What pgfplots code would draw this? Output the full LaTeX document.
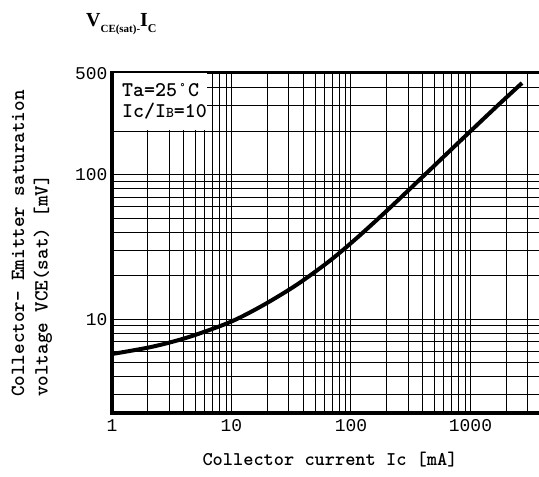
\documentclass[border=0pt]{standalone}
\usepackage{fontspec}
\usepackage{pgfplots}
\pgfplotsset{compat=1.18}
\newfontfamily\titlefont{Liberation Serif}
\newfontfamily\tickfont{Liberation Mono}

\begin{document}
\begin{tikzpicture}
\begin{axis}[
  at={(0,0)}, anchor=south west,
  scale only axis, width=427bp, height=341bp,
  xmode=log, ymode=log,
  xmin=1, xmax=3744, ymin=2.25, ymax=515,
  xtick={1,10,100,1000}, xticklabels={1,10,100,1000},
  ytick={10,100,500}, yticklabels={10,100,500},
  minor xtick={2,3,4,5,6,7,8,9,20,30,40,50,60,70,80,90,200,300,400,500,600,700,800,900,2000,3000},
  minor ytick={3,4,5,6,7,8,9,20,30,40,50,60,70,80,90,200,300,400},
  grid=both,
  major grid style={black, line width=1bp},
  minor grid style={black, line width=1bp},
  major tick length=0pt, minor tick length=0pt,
  axis line style={draw=none},
  tick label style={font=\tickfont\fontsize{18}{20}\selectfont},
  xticklabel style={yshift=-3bp},
  yticklabel style={xshift=-1bp},
]
\addplot[black, line width=4bp, smooth] coordinates {
  (1,5.76) (2.16,6.46) (4.33,7.52) (9.71,9.57) (18.3,12.5) (35.3,17.4)
  (66.7,25.5) (112,36.6) (200,56.6) (357,89.1) (865,179)
  (1667,299) (2699,432)
};
\end{axis}
% condition box
\fill[white] (0,341bp) rectangle (95bp,283bp);
\draw[line width=4bp] (0,-1.5bp) -- (0,342bp);
\draw[line width=3bp] (0,0) -- (427bp,0);
\draw[line width=2bp] (0,341bp) -- (427bp,341bp);
\node[anchor=base west, inner sep=0, font=\ttfamily\bfseries\fontsize{21}{24}\selectfont]
  at (10bp,316bp) {Ta=25°C};
\node[anchor=base west, inner sep=0, font=\ttfamily\bfseries\fontsize{21}{24}\selectfont]
  at (10bp,295bp) {Ic/I{\fontsize{15}{15}\selectfont B}=10};
% labels
\node[inner sep=0, font=\ttfamily\bfseries\fontsize{19.5}{22}\selectfont]
  at (218bp,-47bp) {Collector current Ic [mA]};
\node[rotate=90, anchor=west, inner sep=0, font=\ttfamily\bfseries\fontsize{20.2}{22}\selectfont]
  at (-94bp,16bp) {Collector- Emitter saturation};
\node[rotate=90, anchor=west, inner sep=0, font=\ttfamily\bfseries\fontsize{20.2}{22}\selectfont]
  at (-69bp,16bp) {voltage VCE(sat) [mV]};
\node[anchor=base west, inner sep=0, font=\titlefont\bfseries\fontsize{20}{24}\selectfont]
  at (-26bp,386bp) {V\raisebox{-0.3em}{\fontsize{11}{11}\selectfont CE(sat)-}I\raisebox{-0.3em}{\fontsize{12}{12}\selectfont C}};
\pgfresetboundingbox
\path[use as bounding box] (-112bp,-64bp) rectangle (427bp,413bp);
\end{tikzpicture}
\end{document}
